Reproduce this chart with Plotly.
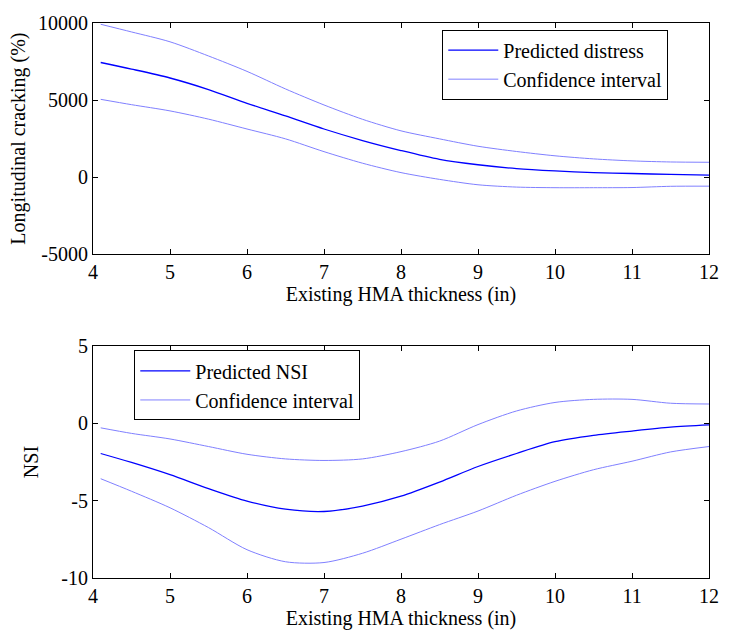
import plotly.graph_objects as go

# Existing HMA thickness (in)
thickness = [4.1, 4.5, 5.0, 5.5, 6.0, 6.5, 7.0, 7.5, 8.0, 8.5, 9.0, 9.5, 10.0, 10.5, 11.0, 11.5, 12.0]

# Top panel: longitudinal cracking
crack_pred = [7436, 7010, 6430, 5680, 4790, 3970, 3120, 2370, 1720, 1150, 800, 550, 400, 290, 230, 170, 130]
crack_upper = [9917, 9420, 8780, 7860, 6860, 5720, 4680, 3750, 3000, 2480, 2000, 1660, 1380, 1180, 1050, 980, 960]
crack_lower = [5045, 4700, 4295, 3760, 3120, 2480, 1650, 900, 290, -150, -500, -650, -690, -690, -680, -600, -590]

# Bottom panel: NSI
nsi_pred = [-1.95, -2.53, -3.32, -4.22, -5.03, -5.55, -5.7, -5.35, -4.71, -3.8, -2.79, -1.95, -1.19, -0.78, -0.5, -0.25, -0.1]
nsi_upper = [-0.29, -0.65, -1.01, -1.5, -2.0, -2.3, -2.4, -2.3, -1.83, -1.15, -0.08, 0.8, 1.35, 1.55, 1.55, 1.3, 1.25]
nsi_lower = [-3.58, -4.39, -5.46, -6.74, -8.17, -8.95, -9.0, -8.4, -7.49, -6.55, -5.67, -4.65, -3.75, -3.0, -2.45, -1.85, -1.5]

x_ticks = [4, 5, 6, 7, 8, 9, 10, 11, 12]
crack_ticks = [-5000, 0, 5000, 10000]
crack_ticktext = ["-5000", "0", "5000", "10000"]
nsi_ticks = [-10, -5, 0, 5]
nsi_ticktext = ["-10", "-5", "0", "5"]

PRED = "rgb(0,0,255)"
CI = "rgb(128,128,255)"
FONT = "Liberation Serif"
FS = 20

fig = go.Figure()


def add_line(x, y, name, color, width, showlegend, xa, ya, leg):
    fig.add_trace(go.Scatter(x=x, y=y, mode="lines", name=name,
                             line=dict(color=color, width=width, shape="spline", smoothing=0.8),
                             showlegend=showlegend, xaxis=xa, yaxis=ya, legend=leg))


add_line(thickness, crack_pred, "Predicted distress", PRED, 1.3, True, "x", "y", "legend")
add_line(thickness, crack_upper, "Confidence interval", CI, 1, True, "x", "y", "legend")
add_line(thickness, crack_lower, "Confidence interval", CI, 1, False, "x", "y", "legend")
add_line(thickness, nsi_pred, "Predicted NSI", PRED, 1.3, True, "x2", "y2", "legend2")
add_line(thickness, nsi_upper, "Confidence interval", CI, 1, True, "x2", "y2", "legend2")
add_line(thickness, nsi_lower, "Confidence interval", CI, 1, False, "x2", "y2", "legend2")

axis_common = dict(showline=True, linecolor="black", linewidth=1, mirror="ticks",
                   ticks="inside", ticklen=5, tickcolor="black", tickwidth=1,
                   showgrid=False, zeroline=False,
                   tickfont=dict(family=FONT, size=FS, color="black"))
title_font = dict(family=FONT, size=FS, color="black")

fig.update_layout(
    width=731, height=633,
    margin=dict(l=93, r=14, t=16, b=55),
    paper_bgcolor="white", plot_bgcolor="white",
    font=dict(family=FONT, size=FS, color="black"),
    xaxis=dict(domain=[0, 1], anchor="y", range=[4, 12], tickvals=x_ticks,
               title=dict(text="Existing HMA thickness (in)", standoff=0, font=title_font),
               **axis_common),
    yaxis=dict(domain=[0.5836, 1], anchor="x", range=[-5000, 10000],
               tickvals=crack_ticks, ticktext=crack_ticktext,
               title=dict(text="Longitudinal cracking (%)", standoff=6, font=title_font),
               **axis_common),
    xaxis2=dict(domain=[0, 1], anchor="y2", range=[4, 12], tickvals=x_ticks,
                title=dict(text="Existing HMA thickness (in)", standoff=0, font=title_font),
                **axis_common),
    yaxis2=dict(domain=[0, 0.418], anchor="x2", range=[-10, 5],
                tickvals=nsi_ticks, ticktext=nsi_ticktext,
                title=dict(text="NSI", standoff=17, font=title_font),
                **axis_common),
    legend=dict(x=0.567, y=0.988, xanchor="left", yanchor="top",
                bgcolor="white", bordercolor="black", borderwidth=1,
                font=dict(family=FONT, size=FS, color="black"),
                tracegroupgap=0, itemwidth=50),
    legend2=dict(x=0.067, y=0.41, xanchor="left", yanchor="top",
                 bgcolor="white", bordercolor="black", borderwidth=1,
                 font=dict(family=FONT, size=FS, color="black"),
                 tracegroupgap=0, itemwidth=50),
)

fig.write_html("out.html")
